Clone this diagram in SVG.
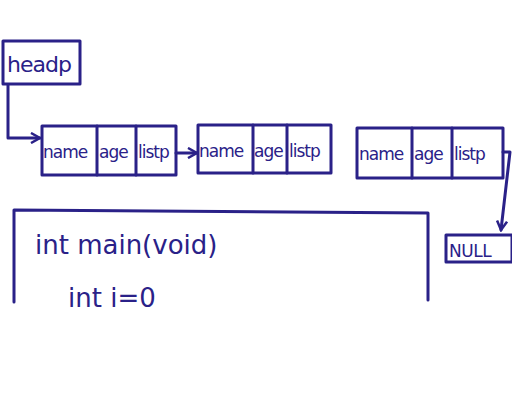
<svg xmlns="http://www.w3.org/2000/svg" width="512" height="413" viewBox="0 0 512 413">
<defs>
<style>
.s{fill:none;stroke:#2a2188;stroke-width:3;stroke-linecap:round;stroke-linejoin:round}
.t{fill:#2a2188;font-family:"DejaVu Sans",sans-serif}
.f{font-size:17px;letter-spacing:-1px}
</style>
<marker id="a" markerWidth="12" markerHeight="12" refX="10" refY="6" orient="auto" markerUnits="userSpaceOnUse">
<path d="M1,1 L10,6 L1,11" fill="none" stroke="#2a2188" stroke-width="2.5"/>
</marker>
</defs>
<rect width="512" height="413" fill="#fff"/>
<g id="headp">
<rect class="s" x="3" y="41" width="77" height="43"/>
<text class="t" x="7" y="72" font-size="22" letter-spacing="-1">headp</text>
</g>
<g id="node1">
<rect class="s" x="42" y="126" width="134" height="49"/>
<line class="s" x1="97" y1="126" x2="97" y2="175"/>
<line class="s" x1="136" y1="126" x2="136" y2="175"/>
<text class="t f" x="43" y="158">name</text>
<text class="t f" x="99" y="158">age</text>
<text class="t f" x="138" y="158">listp</text>
</g>
<g id="node2">
<rect class="s" x="198" y="125" width="133" height="48"/>
<line class="s" x1="253" y1="125" x2="253" y2="173"/>
<line class="s" x1="287" y1="125" x2="287" y2="173"/>
<text class="t f" x="199" y="157">name</text>
<text class="t f" x="254" y="157">age</text>
<text class="t f" x="289" y="157">listp</text>
</g>
<g id="node3">
<rect class="s" x="357" y="128" width="146" height="50"/>
<line class="s" x1="412" y1="128" x2="412" y2="178"/>
<line class="s" x1="452" y1="128" x2="452" y2="178"/>
<text class="t f" x="359" y="160">name</text>
<text class="t f" x="414" y="160">age</text>
<text class="t f" x="454" y="160">listp</text>
</g>
<g id="null">
<rect class="s" x="446" y="235" width="66" height="27"/>
<text class="t" x="449" y="257" font-size="17" letter-spacing="-0.5">NULL</text>
</g>
<g id="main">
<path class="s" d="M14,302 L14,210 L428,213 L428,300"/>
<text class="t" x="35" y="254" font-size="26">int main(void)</text>
<text class="t" x="68" y="307" font-size="26">int i=0</text>
</g>
<g id="connectors">
<path class="s" d="M8,85 L8,138 L40,138" marker-end="url(#a)"/>
<path class="s" d="M176,153 L197,153" marker-end="url(#a)"/>
<path class="s" d="M503,152 L510,152 L501,230" marker-end="url(#a)"/>
</g>
</svg>
